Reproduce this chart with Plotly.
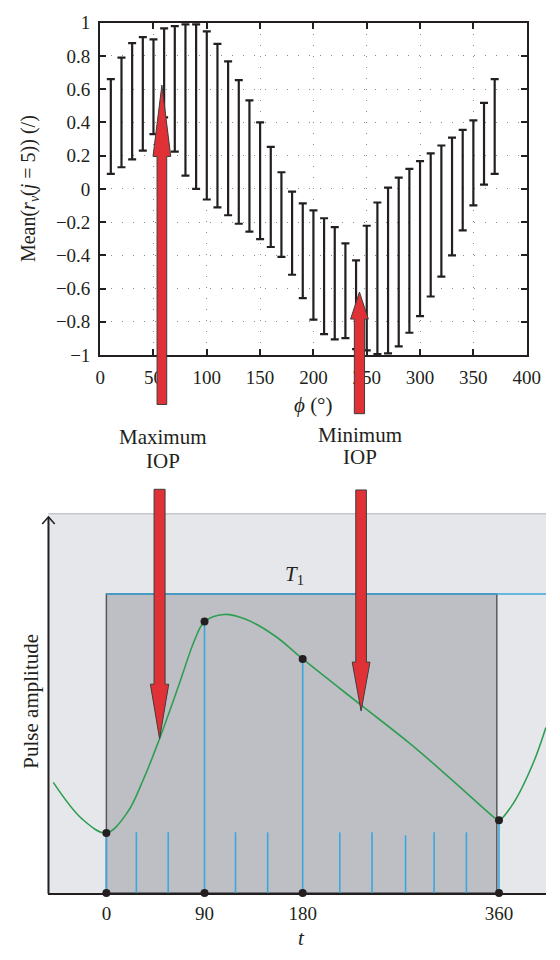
import plotly.graph_objects as go

# ---------------- data: top panel (error bars) ----------------
phi = [10, 20, 30, 40, 50, 60, 70, 80, 90, 100, 110, 120, 130, 140, 150, 160, 170, 180, 190,
       200, 210, 220, 230, 240, 250, 260, 270, 280, 290, 300, 310, 320, 330, 340, 350, 360, 370]
upper = [0.66, 0.79, 0.877, 0.913, 0.90, 0.966, 0.98, 0.99, 0.99, 0.948, 0.873, 0.767, 0.655,
         0.532, 0.40, 0.253, 0.10, -0.017, -0.088, -0.13, -0.177, -0.23, -0.328, -0.43, -0.222,
         -0.082, 0.008, 0.067, 0.12, 0.167, 0.214, 0.261, 0.308, 0.355, 0.412, 0.518, 0.66]
lower = [0.09, 0.13, 0.177, 0.23, 0.33, 0.43, 0.224, 0.08, 0.0, -0.064, -0.112, -0.159, -0.21,
         -0.257, -0.302, -0.35, -0.41, -0.517, -0.658, -0.787, -0.875, -0.906, -0.899, -0.965,
         -0.972, -0.994, -0.99, -0.948, -0.866, -0.766, -0.648, -0.528, -0.40, -0.25, -0.10,
         0.025, 0.09]
x_ticks_top = [0, 50, 100, 150, 200, 250, 300, 350, 400]

# ---------------- data: bottom panel (schematic pulse) ----------------
t_curve = [-48.7, -22.1, 0, 19.2, 33.7, 46.9, 66.4, 81.2, 90, 107.8, 128.4, 155, 180, 233,
           279, 320.4, 355.8, 360, 373.5, 391.2, 403]
a_curve = [0.370, 0.247, 0.201, 0.269, 0.378, 0.498, 0.695, 0.849, 0.908, 0.932, 0.915,
           0.859, 0.783, 0.630, 0.498, 0.367, 0.252, 0.243, 0.302, 0.433, 0.554]
t_key = [0, 90, 180, 360]
a_key = [0.201, 0.908, 0.783, 0.243]
t_short = [27.5, 56.7, 118.4, 147.9, 214, 243.6, 274.3, 300.5, 330.1]
a_short = [0.203, 0.203, 0.203, 0.203, 0.203, 0.203, 0.193, 0.203, 0.203]
t_ticklabels = ["0", "90", "180", "360"]
T1_window = [0, 358]

W, H = 560, 960
FONT = "Liberation Serif"
INK = "#231f20"


def px(x):
    return x / W


def py(y):
    return 1 - y / H


fig = go.Figure()

# error bars
mid = [(u + l) / 2 for u, l in zip(upper, lower)]
half = [(u - l) / 2 for u, l in zip(upper, lower)]
fig.add_trace(go.Scatter(
    x=phi, y=mid, mode="markers", marker=dict(size=1, opacity=0),
    error_y=dict(type="data", array=half, symmetric=True, color=INK, thickness=2.2, width=4),
    xaxis="x", yaxis="y", showlegend=False, hoverinfo="skip"))

# bottom panel traces
BLUE = "#3aa7df"
GREEN = "#2f9e52"
sx, sy = [], []
for t, a in zip(t_short, a_short):
    sx += [t, t, None]
    sy += [0, a, None]
fig.add_trace(go.Scatter(x=sx, y=sy, mode="lines", line=dict(color=BLUE, width=1.6),
                         xaxis="x2", yaxis="y2", showlegend=False, hoverinfo="skip"))
kx, ky = [], []
for t, a in zip(t_key, a_key):
    kx += [t, t, None]
    ky += [0, a, None]
fig.add_trace(go.Scatter(x=kx, y=ky, mode="lines", line=dict(color=BLUE, width=1.6),
                         xaxis="x2", yaxis="y2", showlegend=False, hoverinfo="skip"))
fig.add_trace(go.Scatter(x=t_curve, y=a_curve, mode="lines",
                         line=dict(color=GREEN, width=1.6, shape="spline", smoothing=1.0),
                         xaxis="x2", yaxis="y2", showlegend=False, hoverinfo="skip"))
fig.add_trace(go.Scatter(x=t_key + t_key, y=a_key + [0] * len(t_key), mode="markers",
                         marker=dict(color=INK, size=8), cliponaxis=False,
                         xaxis="x2", yaxis="y2", showlegend=False, hoverinfo="skip"))

# ---------------- shapes ----------------
shapes = []
# bottom background
shapes.append(dict(type="rect", xref="paper", yref="paper", x0=px(45), x1=1,
                   y0=py(902.7), y1=py(515), fillcolor="#e6e7eb", line=dict(width=0),
                   layer="below"))
shapes.append(dict(type="line", xref="paper", yref="paper", x0=px(45), x1=1,
                   y0=py(515), y1=py(515), line=dict(color="#c6c7ca", width=1.5),
                   layer="below"))
# T1 window
shapes.append(dict(type="rect", xref="x2", yref="y2", x0=T1_window[0], x1=T1_window[1],
                   y0=0, y1=1, fillcolor="#bebfc4", line=dict(color="#58595b", width=1.5),
                   layer="below"))
shapes.append(dict(type="line", xref="x2", yref="y2", x0=T1_window[0], x1=403.1,
                   y0=1, y1=1, line=dict(color=BLUE, width=1.5), layer="below"))
# y axis with arrow head
shapes.append(dict(type="line", xref="paper", yref="paper", x0=px(45), x1=px(45),
                   y0=py(903.5), y1=py(518.3), line=dict(color=INK, width=2)))
shapes.append(dict(type="path", xref="paper", yref="paper",
                   path=f"M {px(38.5)},{py(525.5)} L {px(45)},{py(518.3)} L {px(51.5)},{py(525.5)}",
                   line=dict(color=INK, width=1.5)))


# red arrows: (center x, tip y, head base y, shaft end y, head half width, shaft half width)
def arrow(cx, tip, base, end, hw, sw):
    pts = [(cx - sw, end), (cx - sw, base), (cx - hw, base), (cx, tip),
           (cx + hw, base), (cx + sw, base), (cx + sw, end)]
    d = "M " + " L ".join(f"{px(a)},{py(b)}" for a, b in pts) + " Z"
    return dict(type="path", xref="paper", yref="paper", path=d, fillcolor="#e03236",
                line=dict(color="#3d3d3d", width=1), layer="above")


shapes.append(arrow(162.4, 76.7, 149.7, 403.3, 9.2, 5.0))
shapes.append(arrow(366.9, 288.3, 316.0, 412.7, 9.2, 5.3))
shapes.append(arrow(160.0, 745.0, 689.3, 490.0, 9.5, 5.7))
shapes.append(arrow(368.6, 716.7, 666.7, 490.7, 9.2, 5.5))


def ann(text, x, y, size=21, angle=0):
    return dict(text=text, x=px(x), y=py(y), xref="paper", yref="paper", showarrow=False,
                xanchor="center", yanchor="middle", textangle=angle,
                font=dict(family=FONT, size=size, color=INK))


annotations = [
    ann("Mean(<i>r</i><sub><i>v</i></sub>(<i>j</i> = 5)) (/)", 26, 183, 20, -90),
    ann("<i>ϕ</i> (°)", 319, 403.5, 21),
    ann("Maximum", 163.3, 437, 21),
    ann("IOP", 163.3, 461, 21),
    ann("Minimum", 367.7, 434.5, 21),
    ann("IOP", 367.8, 457.5, 21),
    ann("Pulse amplitude", 26, 707, 21, -90),
    ann("<i>T</i><sub>1</sub>", 300, 578, 21),
    ann("<i>t</i>", 307, 949, 21),
]

axis_font = dict(family=FONT, size=19, color=INK)

fig.update_layout(
    width=W, height=H, margin=dict(l=0, r=0, t=0, b=0),
    paper_bgcolor="white", plot_bgcolor="rgba(0,0,0,0)",
    showlegend=False, shapes=shapes, annotations=annotations,
    xaxis=dict(domain=[px(98.5), px(540)], range=[0, 400], tickvals=x_ticks_top,
               ticks="inside", ticklen=6, tickwidth=2, tickcolor=INK,
               showline=True, linecolor=INK, linewidth=2, mirror="ticks",
               showgrid=True, gridcolor="#8e8e8e", gridwidth=1, griddash="1px,10px",
               zeroline=False, tickfont=axis_font, anchor="y", ticklabelstandoff=4),
    yaxis=dict(domain=[py(352.7), py(13)], range=[-1, 1], dtick=0.2, tick0=-1,
               ticks="inside", ticklen=6, tickwidth=2, tickcolor=INK,
               showline=True, linecolor=INK, linewidth=2, mirror="ticks",
               showgrid=True, gridcolor="#8e8e8e", gridwidth=1, griddash="1px,10px",
               zeroline=False, tickfont=axis_font, anchor="x", ticklabelstandoff=4),
    xaxis2=dict(domain=[px(45), 1], range=[-53.1, 403.1], tickvals=t_key,
                ticktext=t_ticklabels, ticks="", showline=True, linecolor=INK, linewidth=2.2,
                showgrid=False, zeroline=False, tickfont=axis_font, anchor="y2",
                ticklabelstandoff=2),
    yaxis2=dict(domain=[py(902.7), py(515)], range=[0, 1.269], showticklabels=False,
                ticks="", showline=False, showgrid=False, zeroline=False, anchor="x2"),
)

fig.write_html("out.html", config={"displayModeBar": False},
               post_script="document.body.style.margin='0';")
